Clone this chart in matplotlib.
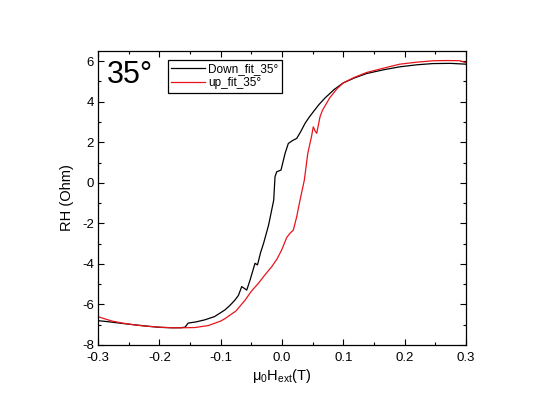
import matplotlib
matplotlib.use("Agg")
import matplotlib.pyplot as plt
from matplotlib.ticker import MultipleLocator

plt.rcParams['font.family'] = ['Liberation Sans', 'DejaVu Sans']

# Down sweep (black)
down_x = [-0.300, -0.284, -0.265, -0.245, -0.223, -0.200, -0.180, -0.165, -0.158,
          -0.153, -0.140, -0.126, -0.110, -0.093, -0.085, -0.0766, -0.071, -0.0657,
          -0.0575, -0.052, -0.044, -0.040, -0.035, -0.030, -0.022, -0.0168, -0.0135,
          -0.0114, -0.0087, -0.0016, 0.005, 0.0103, 0.017, 0.024, 0.031, 0.0375,
          0.044, 0.051, 0.060, 0.070, 0.085, 0.0995, 0.118, 0.138, 0.165, 0.192,
          0.220, 0.246, 0.275, 0.300]
down_y = [-6.80, -6.85, -6.92, -6.99, -7.06, -7.13, -7.15, -7.15, -7.12,
          -6.92, -6.86, -6.76, -6.60, -6.27, -6.05, -5.78, -5.55, -5.12,
          -5.29, -4.79, -3.97, -4.05, -3.45, -2.98, -2.10, -1.34, -0.85,
          0.30, 0.54, 0.63, 1.45, 1.94, 2.08, 2.19, 2.55, 2.93,
          3.22, 3.50, 3.85, 4.18, 4.60, 4.92, 5.17, 5.39, 5.57, 5.72,
          5.82, 5.88, 5.89, 5.85]

# Up sweep (red)
up_x = [-0.300, -0.290, -0.277, -0.260, -0.240, -0.223, -0.200, -0.180, -0.160,
        -0.142, -0.120, -0.100, -0.093, -0.075, -0.060, -0.050, -0.0386, -0.028,
        -0.0168, -0.008, -0.0005, 0.0077, 0.013, 0.0185, 0.024, 0.0294, 0.0364,
        0.042, 0.048, 0.051, 0.054, 0.0566, 0.062, 0.066, 0.078, 0.090, 0.100,
        0.118, 0.138, 0.165, 0.192, 0.220, 0.247, 0.270, 0.290, 0.300]
up_y = [-6.60, -6.70, -6.82, -6.92, -7.01, -7.07, -7.12, -7.15, -7.15,
        -7.14, -7.04, -6.82, -6.70, -6.32, -5.78, -5.35, -4.96, -4.55,
        -4.14, -3.75, -3.31, -2.70, -2.49, -2.33, -1.67, -0.85, 0.13,
        1.45, 2.27, 2.76, 2.55, 2.44, 3.26, 3.58, 4.20, 4.65, 4.93,
        5.20, 5.44, 5.65, 5.85, 5.95, 6.02, 6.03, 6.02, 5.92]

fig = plt.figure(figsize=(5.46, 4.16), dpi=100)
ax = fig.add_axes([0.1795, 0.1707, 0.674, 0.7067])

ax.plot(down_x, down_y, color='black', lw=0.9, label='Down_fit_35°')
ax.plot(up_x, up_y, color='#e8141c', lw=0.9, label='up_fit_35°')

ax.set_xlim(-0.3, 0.3)
ax.set_ylim(-8, 6.5)
ax.xaxis.set_minor_locator(MultipleLocator(0.05))
ax.yaxis.set_minor_locator(MultipleLocator(1))
ax.set_xticks([-0.3, -0.2, -0.1, 0.0, 0.1, 0.2, 0.3])
ax.set_xticklabels(['-0.3', '-0.2', '-0.1', '0.0', '0.1', '0.2', '0.3'])
ax.set_yticks([-8, -6, -4, -2, 0, 2, 4, 6])
ax.set_yticklabels(['-8', '-6', '-4', '-2', '0', '2', '4', '6'])
ax.tick_params(which='both', direction='in', top=True, right=True, labelsize=9.5)
ax.tick_params(axis='x', pad=5)
ax.tick_params(axis='y', pad=3)
ax.tick_params(which='major', length=4.5, width=0.8)
ax.tick_params(which='minor', length=2.5, width=0.8)
for s in ax.spines.values():
    s.set_linewidth(0.9)

ax.set_xlabel(r'$\mathregular{\mu_0H_{ext}}$(T)', fontsize=10.5, labelpad=2)
ax.set_ylabel('RH (Ohm)', fontsize=10.5, labelpad=6)

ax.text(0.025, 0.97, '35°', transform=ax.transAxes, fontsize=22, va='top', ha='left')

leg = ax.legend(loc='upper left', bbox_to_anchor=(0.19, 0.97), fontsize=8.5,
                frameon=True, fancybox=False, edgecolor='black', framealpha=1,
                handlelength=2.8, handletextpad=0.3, borderpad=0.3, labelspacing=0.15,
                borderaxespad=0)
leg.get_frame().set_linewidth(0.9)

fig.savefig('out.png', dpi=100)
